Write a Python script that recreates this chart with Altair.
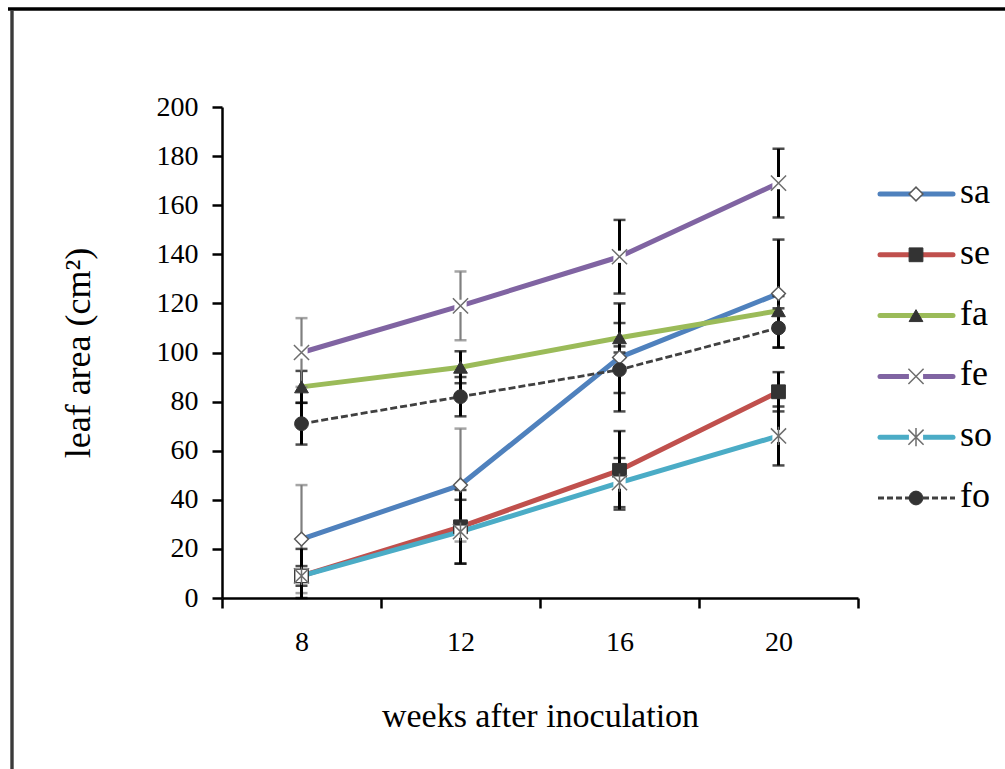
import altair as alt
import pandas as pd

# ---- data ----
series = ["sa", "se", "fa", "fe", "so", "fo"]
weeks = [8, 12, 16, 20]
sa = [24, 46, 98, 124]
se = [9, 29, 52, 84]
fa = [86, 94, 106, 117]
fe = [100, 119, 139, 169]
so = [9, 27, 47, 66]
fo = [71, 82, 93, 110]
sa_err = [22, 23, 22, 22]
se_err = [11, 15, 16, 8]
fa_err = [6.5, 6.5, 6, 6]
fe_err = [14, 14, 15, 14]
so_err = [4, 13, 10, 12]
fo_err = [8.5, 8, 9.5, 8]
y_ticks = [0, 20, 40, 60, 80, 100, 120, 140, 160, 180, 200]

values = {"sa": sa, "se": se, "fa": fa, "fe": fe, "so": so, "fo": fo}
errors = {"sa": sa_err, "se": se_err, "fa": fa_err, "fe": fe_err, "so": so_err, "fo": fo_err}

rows = []
for s in series:
    for w, v, e in zip(weeks, values[s], errors[s]):
        rows.append({"series": s, "week": w, "value": v, "err": e})
df = pd.DataFrame(rows)
legend_df = pd.DataFrame({"series": series})
one = pd.DataFrame({"k": [0]})

# ---- styles ----
FONT = "Liberation Serif"
line_color = {"sa": "#4F81BD", "se": "#C0504D", "fa": "#9BBB59",
              "fe": "#8064A2", "so": "#4BACC6", "fo": "#404040"}
X_PATH = "M-1,-1L1,1M-1,1L1,-1"
AST_PATH = "M-1,-1L1,1M-1,1L1,-1M0,-1.2L0,1.2"
marker = {
    "sa": dict(shape="diamond", filled=True, fill="white", stroke="#595959", strokeWidth=1.5, size=190),
    "se": dict(shape="square", filled=True, fill="#333333", stroke="#333333", strokeWidth=1, size=190),
    "fa": dict(shape="triangle-up", filled=True, fill="#333333", stroke="#333333", strokeWidth=1, size=190),
    "fe": dict(shape=X_PATH, filled=False, stroke="#6e6e6e", strokeWidth=1.5, size=230),
    "so": dict(shape=AST_PATH, filled=False, stroke="#6e6e6e", strokeWidth=1.5, size=230),
    "fo": dict(shape="circle", filled=True, fill="#333333", stroke="#333333", strokeWidth=1, size=190),
}

W, H = 636, 491

X = alt.X("week:O",
          scale=alt.Scale(type="band", domain=weeks, paddingInner=0, paddingOuter=0),
          axis=alt.Axis(tickBand="extent", labelAngle=0, tickSize=10, labelPadding=20,
                        labelFontSize=28, title="weeks after inoculation",
                        titleX=W / 2, titleY=128, titleBaseline="alphabetic",
                        titleFontSize=34, titleAlign="center"),
          title="weeks after inoculation")


def Y(field):
    return alt.Y(f"{field}:Q",
                 scale=alt.Scale(domain=[0, 200], nice=False),
                 axis=alt.Axis(values=y_ticks, tickSize=10, labelPadding=14, labelFontSize=28,
                               title="leaf area (cm²)", titleX=-133, titleY=H / 2,
                               titleAngle=270, titleBaseline="alphabetic",
                               titleAlign="center", titleFontSize=36),
                 title="leaf area (cm²)")


base = alt.Chart(df).transform_calculate(
    lo="max(0, datum.value - datum.err)",
    hi="datum.value + datum.err",
    bc="((datum.series == 'sa' || datum.series == 'fe') && datum.week <= 12) ? '#7f7f7f' : '#000000'",
    bw="((datum.series == 'sa' || datum.series == 'fe') && datum.week <= 12) ? 2.2 : 3",
)

layers = []
# lines
for s in series:
    kw = dict(color=line_color[s], strokeWidth=5, strokeCap="round", strokeJoin="round")
    if s == "fo":
        kw = dict(color=line_color[s], strokeWidth=2.8, strokeDash=[7, 3])
    layers.append(base.transform_filter(alt.datum.series == s).mark_line(**kw)
                  .encode(x=X, y=Y("value")))
# error bars
for s in series:
    b = base.transform_filter(alt.datum.series == s)
    enc = dict(color=alt.Color("bc:N", scale=None), strokeWidth=alt.StrokeWidth("bw:Q", scale=None))
    layers.append(b.mark_rule().encode(x=X, y=Y("lo"), y2="hi:Q", **enc))
    layers.append(b.mark_tick(size=12, thickness=2.5).encode(x=X, y=Y("lo"), color=enc["color"]))
    layers.append(b.mark_tick(size=12, thickness=2.5).encode(x=X, y=Y("hi"), color=enc["color"]))
# markers
for s in series:
    b = base.transform_filter(alt.datum.series == s)
    if s in ("fe", "so"):
        layers.append(b.mark_point(shape="square", filled=True, color="white", size=150, opacity=1)
                      .encode(x=X, y=Y("value")))
    layers.append(b.mark_point(opacity=1, **marker[s]).encode(x=X, y=Y("value")))

# outer frame of the figure
layers.append(alt.Chart(one).mark_rule(color="#000000", strokeWidth=3.4).encode(
    x=alt.value(-214), x2=alt.value(783), y=alt.value(-98)))
layers.append(alt.Chart(one).mark_rule(color="#3a3a3a", strokeWidth=3.4).encode(
    x=alt.value(-210), y=alt.value(-97), y2=alt.value(662)))

data_layer = alt.layer(*layers)

# ---- legend ----
LY = alt.Y("series:N", scale=alt.Scale(type="point", domain=series, range=[87, 391], padding=0),
           axis=None)
leg = []
lb = alt.Chart(legend_df)
for s in series:
    f = lb.transform_filter(alt.datum.series == s)
    if s == "fo":
        leg.append(f.mark_rule(color=line_color[s], strokeWidth=3, strokeDash=[6, 3]).encode(
            x=alt.value(656), x2=alt.value(733), y=LY))
    else:
        leg.append(f.mark_rule(color=line_color[s], strokeWidth=5, strokeCap="round").encode(
            x=alt.value(658), x2=alt.value(731), y=LY))
    if s in ("fe", "so"):
        leg.append(f.mark_point(shape="square", filled=True, color="white", size=200, opacity=1)
                   .encode(x=alt.value(694), y=LY))
    leg.append(f.mark_point(opacity=1, **marker[s]).encode(x=alt.value(694), y=LY))
leg.append(lb.mark_text(align="left", baseline="middle", font=FONT, fontSize=36, color="black",
                        dy=-2).encode(x=alt.value(738), y=LY, text="series:N"))
legend_layer = alt.layer(*leg)

chart = alt.layer(data_layer, legend_layer).resolve_scale(y="independent").properties(
    width=W, height=H,
    autosize=alt.AutoSizeParams(type="none"),
    padding={"left": 222, "top": 107, "right": 147, "bottom": 171},
    background="white",
).configure_axis(
    labelFont=FONT, titleFont=FONT, labelColor="black", titleColor="black",
    domainColor="black", tickColor="black", domainWidth=2.5, tickWidth=2.5,
    grid=False, titleFontWeight="normal", labelFontWeight="normal",
).configure_view(strokeWidth=0)

chart.save("out.html", embed_options={"renderer": "svg", "actions": False})
